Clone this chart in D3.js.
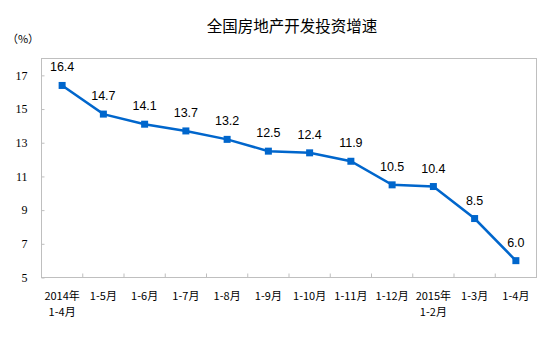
<!DOCTYPE html>
<html>
<head>
<meta charset="utf-8">
<script src="https://cdn.jsdelivr.net/npm/d3@7"></script>
<style>
  body { margin: 0; background: #fff; }
  text { font-family: "Noto Sans CJK SC", sans-serif; fill: #000; }
</style>
</head>
<body>
<div id="canvas"></div>
<script>
"use strict"

// DATA
let categories = ["2014年|1-4月", "1-5月", "1-6月", "1-7月", "1-8月", "1-9月", "1-10月", "1-11月", "1-12月", "2015年|1-2月", "1-3月", "1-4月"];
let growth = [16.4, 14.7, 14.1, 13.7, 13.2, 12.5, 12.4, 11.9, 10.5, 10.4, 8.5, 6.0];
let yTicks = [5, 7, 9, 11, 13, 15, 17];

/* drawing config */
let svgWidth = 554;
let svgHeight = 354;
let marginLeft = 41.5;
let marginRight = 17.5;
let marginTop = 58.5;
let marginBottom = 76.5;

let svg = d3.select("#canvas")
  .append("svg")
  .attr("width", svgWidth)
  .attr("height", svgHeight);

let xScale = d3.scaleBand()
  .domain(categories)
  .range([marginLeft, svgWidth - marginRight]);

let yScale = d3.scaleLinear()
  .domain([5, 18])
  .range([svgHeight - marginBottom, marginTop]);

// title
svg.append("text")
  .attr("x", 292)
  .attr("y", 25)
  .attr("text-anchor", "middle")
  .attr("dominant-baseline", "central")
  .style("font-size", "15.5px")
  .text("全国房地产开发投资增速");

svg.append("text")
  .attr("x", 23)
  .attr("y", 38)
  .attr("text-anchor", "middle")
  .attr("dominant-baseline", "central")
  .style("font-size", "11px")
  .text("（%）");

// plot frame
svg.append("rect")
  .attr("x", marginLeft)
  .attr("y", marginTop)
  .attr("width", svgWidth - marginLeft - marginRight)
  .attr("height", svgHeight - marginTop - marginBottom)
  .attr("fill", "none")
  .attr("stroke", "#bfbfbf")
  .attr("stroke-width", 1);

// y axis
let yAxis = svg.append("g")
  .attr("transform", "translate(" + marginLeft + ",0)")
  .call(d3.axisLeft(yScale).tickValues(yTicks).tickSize(-3).tickPadding(14));
yAxis.select(".domain").remove();
yAxis.selectAll("line").attr("stroke", "#bfbfbf");
yAxis.selectAll("text")
  .style("font-family", "'Liberation Serif', serif")
  .style("font-size", "12px")
  .attr("fill", "#000");

// x axis: ticks at band boundaries, pointing inward
let boundaries = categories.slice(1).map(function (c) { return xScale(c); });
svg.selectAll(".xtick")
  .data(boundaries)
  .join("line")
  .attr("class", "xtick")
  .attr("x1", function (d) { return d; })
  .attr("x2", function (d) { return d; })
  .attr("y1", yScale(5))
  .attr("y2", yScale(5) - 4)
  .attr("stroke", "#bfbfbf");

let xLabels = svg.selectAll(".xlabel")
  .data(categories)
  .join("text")
  .attr("class", "xlabel")
  .attr("x", function (d) { return xScale(d) + xScale.bandwidth() / 2; })
  .attr("y", yScale(5) + 17)
  .attr("text-anchor", "middle")
  .attr("dominant-baseline", "central")
  .style("font-size", "11px");

xLabels.each(function (d) {
  let parts = d.split("|");
  let t = d3.select(this);
  parts.forEach(function (p, i) {
    t.append("tspan")
      .attr("x", t.attr("x"))
      .attr("dy", i === 0 ? 0 : 16)
      .text(p);
  });
});

// line
let cx = function (d, i) { return xScale(categories[i]) + xScale.bandwidth() / 2; };

let line = d3.line()
  .x(function (d, i) { return cx(d, i); })
  .y(function (d) { return yScale(d); });

svg.append("path")
  .datum(growth)
  .attr("d", line)
  .attr("fill", "none")
  .attr("stroke", "#0066cc")
  .attr("stroke-width", 2.5);

svg.selectAll(".marker")
  .data(growth)
  .join("rect")
  .attr("class", "marker")
  .attr("x", function (d, i) { return cx(d, i) - 3.5; })
  .attr("y", function (d) { return yScale(d) - 3.5; })
  .attr("width", 7)
  .attr("height", 7)
  .attr("fill", "#0066cc");

// value labels
svg.selectAll(".vlabel")
  .data(growth)
  .join("text")
  .attr("class", "vlabel")
  .attr("x", function (d, i) { return cx(d, i); })
  .attr("y", function (d) { return yScale(d) - 18; })
  .attr("text-anchor", "middle")
  .attr("dominant-baseline", "central")
  .style("font-family", "'Liberation Sans', Arial, sans-serif")
  .style("font-size", "12.5px")
  .text(function (d) { return d.toFixed(1); });
</script>
</body>
</html>
